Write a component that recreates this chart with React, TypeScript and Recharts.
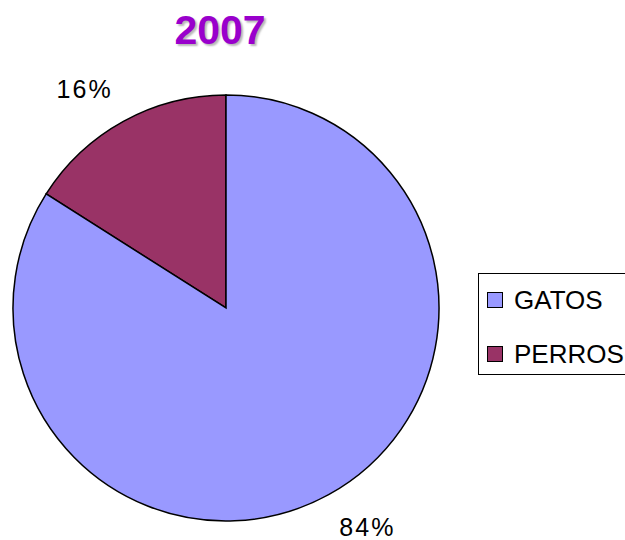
import { PieChart, Pie, Cell, Legend } from 'recharts';

// values (percent)
const categories = ['PERROS', 'GATOS'];
const shares = [16, 84];
const sliceColors = ['#993366', '#9999FF'];
const legendOrder = ['GATOS', 'PERROS'];
const chartTitle = '2007';

const pieData = categories.map((name, i) => ({ name, value: shares[i] }));

const RADIAN = Math.PI / 180;

const renderLabel = ({ cx, cy, midAngle, outerRadius, value }: any) => {
  // labels sit a little outside the rim, turned slightly counter-clockwise
  const r = outerRadius + 48;
  const a = (midAngle + 4) * RADIAN;
  const x = cx + r * Math.cos(-a);
  const y = cy + r * Math.sin(-a);
  return (
    <text
      x={x}
      y={y}
      textAnchor="middle"
      dominantBaseline="central"
      fill="#000"
      fontSize={25}
      letterSpacing={2}
      fontFamily="'Liberation Sans', Arial, sans-serif"
    >
      {`${value}%`}
    </text>
  );
};

const CustomLegend = () => (
  <div
    style={{
      border: '1.5px solid #000',
      width: 175,
      height: 102,
      boxSizing: 'border-box',
      paddingTop: 12,
      paddingLeft: 8,
      background: '#fff',
      fontFamily: "'Liberation Sans', Arial, sans-serif",
    }}
  >
    {legendOrder.map((name) => {
      const idx = categories.indexOf(name);
      return (
        <div key={name} style={{ display: 'flex', alignItems: 'center', height: 28, marginBottom: 26 }}>
          <span
            style={{
              display: 'inline-block',
              width: 14,
              height: 14,
              background: sliceColors[idx],
              border: '1.5px solid #000',
              marginRight: 11,
            }}
          />
          <span style={{ fontSize: 26, color: '#000' }}>{name}</span>
        </div>
      );
    })}
  </div>
);

export default function App() {
  return (
    <div style={{ position: 'absolute', left: 0, top: 0, width: 625, height: 540, background: '#fff', overflow: 'hidden' }}>
      <div
        style={{
          position: 'absolute',
          left: 0,
          width: 440,
          top: 7,
          textAlign: 'center',
          fontFamily: "'Liberation Sans', Arial, sans-serif",
          fontWeight: 'bold',
          fontSize: 41,
          color: '#9900CC',
          textShadow: '2px 2px 2px #b8b8b8',
          zIndex: 2,
        }}
      >
        {chartTitle}
      </div>
      <PieChart width={625} height={540} margin={{ top: 0, right: 0, bottom: 0, left: 0 }}>
        <Pie
          data={pieData}
          dataKey="value"
          nameKey="name"
          cx={226}
          cy={308}
          outerRadius={213}
          startAngle={90}
          endAngle={450}
          stroke="#000"
          strokeWidth={1.5}
          label={renderLabel}
          labelLine={false}
          isAnimationActive={false}
        >
          {pieData.map((d, i) => (
            <Cell key={d.name} fill={sliceColors[i]} />
          ))}
        </Pie>
        <Legend
          content={<CustomLegend />}
          wrapperStyle={{ position: 'absolute', left: 478, top: 273, width: 175 }}
        />
      </PieChart>
    </div>
  );
}
